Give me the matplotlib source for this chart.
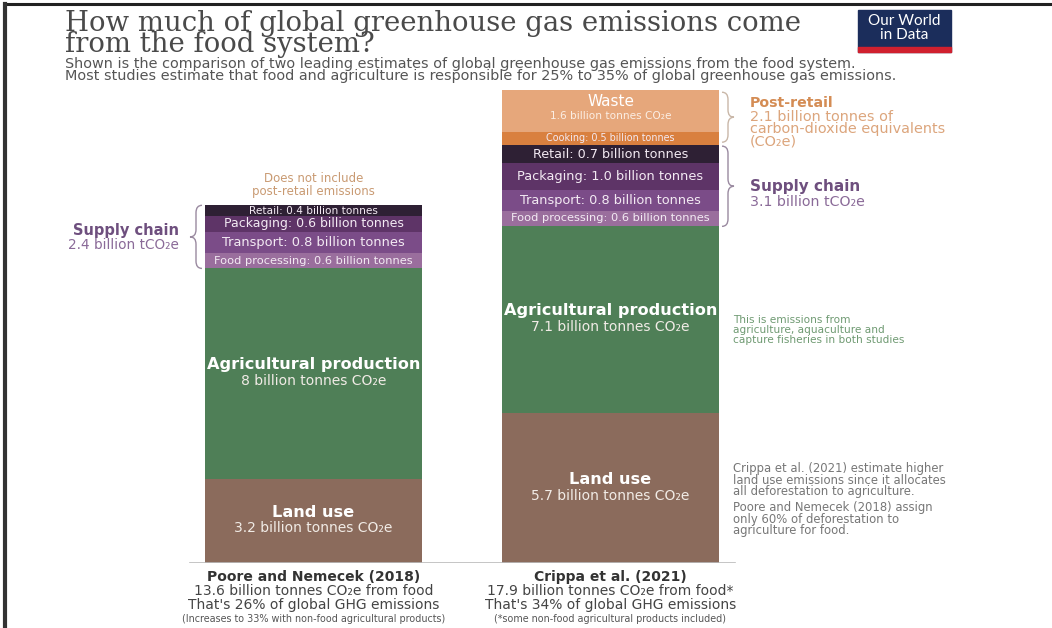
import matplotlib.pyplot as plt
from matplotlib.path import Path
from matplotlib.patches import PathPatch, Rectangle
from matplotlib.lines import Line2D

# data (billion tonnes CO2e)
studies = ["Poore and Nemecek (2018)", "Crippa et al. (2021)"]
stages = ["Land use", "Agricultural production", "Food processing", "Transport",
          "Packaging", "Retail", "Cooking", "Waste"]
poore = [3.2, 8.0, 0.6, 0.8, 0.6, 0.4, 0.0, 0.0]
crippa = [5.7, 7.1, 0.6, 0.8, 1.0, 0.7, 0.5, 1.6]
totals = [13.6, 17.9]
shares = ["26%", "34%"]
footnotes = ["(Increases to 33% with non-food agricultural products)",
             "(*some non-food agricultural products included)"]
supply_chain = [2.4, 3.1]
post_retail = 2.1

colors = ["#8b6b5c", "#4f7f57", "#9a6e9d", "#7b4c88", "#5e3467", "#2e2034",
          "#d9803f", "#e6a77b"]

W, H = 1052, 628
fig = plt.figure(figsize=(W / 100, H / 100), dpi=100)
plt.rcParams['font.family'] = ["DejaVu Sans"]

# main axes: x in pixels, y in data units
scale = 26.3
base_px = 563
ax = fig.add_axes([0, (H - base_px) / H, 1, 20 * scale / H])
ax.set_xlim(0, W)
ax.set_ylim(0, 20)
ax.axis("off")

# overlay axes in pixel coords for the free text
ov = fig.add_axes([0, 0, 1, 1], zorder=5)
ov.set_xlim(0, W)
ov.set_ylim(H, 0)
ov.axis("off")
ov.patch.set_alpha(0)

centers = [313.5, 610.5]
bw = 217

# font size of the small segment labels, per study
small_fs = [{"Food processing": 8.2, "Transport": 9.4, "Packaging": 9.0, "Retail": 7.6},
            {"Food processing": 8.2, "Transport": 9.3, "Packaging": 9.3, "Retail": 9.2,
             "Cooking": 6.9}]

for ci, vals in enumerate([poore, crippa]):
    bottom = 0
    for si, v in enumerate(vals):
        if v <= 0:
            continue
        ax.bar(centers[ci], v, bw, bottom=bottom, color=colors[si], linewidth=0)
        mid = bottom + v / 2
        name = stages[si]
        if name in ("Land use", "Agricultural production"):
            ax.text(centers[ci], mid + 0.05, name, ha="center", va="bottom",
                    color="white", fontsize=11.6, fontweight="bold")
            ax.text(centers[ci], mid - 0.02, f"{v:g} billion tonnes CO₂e", ha="center",
                    va="top", color="#f1ebe6", fontsize=10)
        elif name == "Waste":
            ax.text(centers[ci], mid + 0.05, "Waste", ha="center", va="bottom",
                    color="white", fontsize=11)
            ax.text(centers[ci], mid - 0.02, f"{v:g} billion tonnes CO₂e", ha="center",
                    va="top", color="#fbeee4", fontsize=7.6)
        else:
            ax.text(centers[ci], mid, f"{name}: {v:.1f} billion tonnes", ha="center",
                    va="center", color="#f3eaf3", fontsize=small_fs[ci][name])
        bottom += v

ax.plot([190, 735], [0, 0], color="#bbbbbb", lw=1.2)


def brace(x0, w, y0, y1, color):
    d = 0.28
    ym = (y0 + y1) / 2
    xm = x0 + w / 2
    verts = [(x0 + w, y1), (xm, y1), (xm, y1 - d), (xm, ym + d), (xm, ym), (x0, ym),
             (xm, ym), (xm, ym - d), (xm, y0 + d), (xm, y0), (x0 + w, y0)]
    codes = [Path.MOVETO, Path.CURVE3, Path.CURVE3, Path.LINETO, Path.CURVE3, Path.CURVE3,
             Path.CURVE3, Path.CURVE3, Path.LINETO, Path.CURVE3, Path.CURVE3]
    ax.add_patch(PathPatch(Path(verts, codes), fill=False, edgecolor=color, lw=1.0))


brace(190, 12, sum(poore[:2]), totals[0], "#9a8aa0")
brace(734, -12, sum(crippa[:6]) + 0.1, totals[1], "#c9b7a8")
brace(734, -12, sum(crippa[:2]), sum(crippa[:6]) - 0.05, "#9a8aa0")

purple = "#6e4f7e"
orange = "#d48c54"
ov.text(centers[0], 185, "Does not include\npost-retail emissions", ha="center", va="center",
        color="#c99a72", fontsize=8.5, linespacing=0.95)
ov.text(179, 231, "Supply chain", ha="right", va="center", color=purple, fontsize=10.5,
        fontweight="bold")
ov.text(179, 245, f"{supply_chain[0]} billion tCO₂e", ha="right", va="center",
        color="#8a6a98", fontsize=9.8)
ov.text(750, 103, "Post-retail", ha="left", va="center", color=orange, fontsize=10.2,
        fontweight="bold")
ov.text(750, 129, f"{post_retail} billion tonnes of\ncarbon-dioxide equivalents\n(CO₂e)",
        ha="left", va="center", color="#dca57c", fontsize=10.4, linespacing=0.85)
ov.text(750, 187, "Supply chain", ha="left", va="center", color=purple, fontsize=11,
        fontweight="bold")
ov.text(750, 202, f"{supply_chain[1]} billion tCO₂e", ha="left", va="center",
        color="#8a6a98", fontsize=10.2)
ov.text(733, 330, "This is emissions from\nagriculture, aquaculture and\ncapture fisheries in both studies",
        ha="left", va="center", color="#6f9a72", fontsize=7.6, linespacing=0.95)
ov.text(733, 480, "Crippa et al. (2021) estimate higher\nland use emissions since it allocates\nall deforestation to agriculture.",
        ha="left", va="center", color="#777777", fontsize=8.4, linespacing=0.88)
ov.text(733, 519, "Poore and Nemecek (2018) assign\nonly 60% of deforestation to\nagriculture for food.",
        ha="left", va="center", color="#777777", fontsize=8.4, linespacing=0.88)

for ci in range(2):
    star = "*" if ci == 1 else ""
    ov.text(centers[ci], 577, studies[ci], ha="center", va="center", color="#333333",
            fontsize=10, fontweight="bold")
    ov.text(centers[ci], 598, f"{totals[ci]} billion tonnes CO₂e from food{star}\n"
            f"That's {shares[ci]} of global GHG emissions", ha="center",
            va="center", color="#444444", fontsize=10, linespacing=0.95)
    ov.text(centers[ci], 619, footnotes[ci], ha="center", va="center", color="#555555",
            fontsize=6.9)

# title and subtitle
ov.text(65, 52, "How much of global greenhouse gas emissions come\nfrom the food system?",
        ha="left", va="baseline", color="#4a4a4a", fontsize=19.8, family="DejaVu Serif",
        linespacing=0.72)
r = fig.canvas.get_renderer()
sub = ov.text(65, 70, "Shown is the comparison of two leading estimates of global greenhouse gas emissions from the food system.\n"
              "Most studies estimate that food and agriculture is responsible for 25% to 35% of global greenhouse gas emissions.",
              ha="left", va="center", color="#555555", fontsize=9, linespacing=0.9)
bb = sub.get_window_extent(r)
sub.set_fontsize(min(9 * 828 / bb.width, 10.5))

# logo
ov.add_patch(Rectangle((858, 10), 93, 42, color="#1b2d5b", zorder=2))
ov.add_patch(Rectangle((858, 47), 93, 5, color="#d0202e", zorder=3))
ov.text(904.5, 28, "Our World\nin Data", ha="center", va="center", color="white", fontsize=11,
        family=["Lato", "DejaVu Sans"], linespacing=0.92, zorder=4)

# frame lines on top and left
ov.add_line(Line2D([5, W], [4, 4], color="#222222", lw=2.2))
ov.add_line(Line2D([5, 5], [4, H], color="#333333", lw=3))

fig.savefig("out.png", dpi=100)
